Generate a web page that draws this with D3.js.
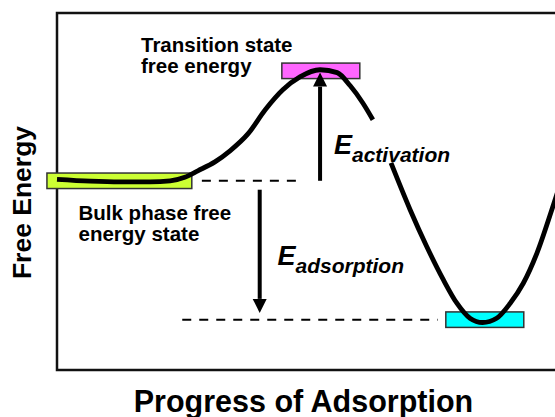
<!DOCTYPE html>
<html>
<head>
<meta charset="utf-8">
<script src="https://cdn.jsdelivr.net/npm/d3@7"></script>
<style>
  html, body { margin: 0; padding: 0; background: #fff; }
  svg { display: block; font-family: "Liberation Sans", Arial, Helvetica, sans-serif; }
</style>
</head>
<body>
<svg id="chart" width="555" height="417"></svg>
<script>
// ---- Data (progress 0..100, free energy relative to bulk state = 0) ----
const curveBeforeProgress = [0, 6.6, 12.5, 18.5, 22.5, 25.4, 28.0, 31.4, 34.4, 38.0, 41.4, 44.9, 48.3, 52.3, 55.7, 58.3, 60.8, 62.8];
const curveBeforeEnergy   = [0.4, -0.1, -0.3, -0.3, 0, 1.0, 2.8, 5.3, 8.4, 13.2, 19.9, 25.5, 29.1, 31.1, 30.3, 26.6, 21.8, 17.1];
const curveAfterProgress  = [66.4, 70.2, 73.5, 76.8, 79.5, 82.1, 84.6, 87.4, 90.1, 92.7, 95.4, 98.7, 100];
const curveAfterEnergy    = [5.0, -8.1, -18.4, -27.7, -34.3, -38.5, -39.7, -38.5, -34.3, -28.7, -20.3, -6.7, -1.1];

const stateNames         = ["bulk", "transition", "adsorbed"];
const stateEnergy        = [0, 30.8, -38.9];
const stateProgressStart = [-2.0, 44.7, 77.3];
const stateProgressEnd   = [26.8, 60.2, 92.8];
const stateColors        = ["#ccff33", "#ff66ff", "#00ffff"];

const dashedLevelEnergy = [0, -38.9];
const dashedFrom        = [28.8, 24.9];
const dashedTo          = [48.9, 75.7];

const arrowProgress = [52.3, 40.3];
const arrowFrom     = [0, -2.5];
const arrowTo       = [30.3, -37.0];

const xAxisTitle = "Progress of Adsorption";
const yAxisTitle = "Free Energy";
const transitionLabel = ["Transition state", "free energy"];
const bulkLabel = ["Bulk phase free", "energy state"];
const activationLabel = ["E", "activation"];
const adsorptionLabel = ["E", "adsorption"];

// ---- Scales ----
const x = d3.scaleLinear().domain([0, 100]).range([57, 560]);
const y = d3.scaleLinear().domain([-53, 47]).range([370, 13]);

const svg = d3.select("#chart");

// Frame
svg.append("rect")
  .attr("x", x(0)).attr("y", y(47))
  .attr("width", x(100) - x(0)).attr("height", y(-53) - y(47))
  .attr("fill", "none").attr("stroke", "#111").attr("stroke-width", 2.5);

// State boxes
const boxH = 15.5;
svg.selectAll("rect.state").data(stateNames).enter().append("rect")
  .attr("class", "state")
  .attr("x", (d, i) => x(stateProgressStart[i]))
  .attr("y", (d, i) => y(stateEnergy[i]) - boxH / 2)
  .attr("width", (d, i) => x(stateProgressEnd[i]) - x(stateProgressStart[i]))
  .attr("height", boxH)
  .attr("fill", (d, i) => stateColors[i])
  .attr("stroke", "#333").attr("stroke-width", 1.5);

// Dashed levels
svg.selectAll("line.level").data(dashedLevelEnergy).enter().append("line")
  .attr("class", "level")
  .attr("x1", (d, i) => x(dashedFrom[i])).attr("x2", (d, i) => x(dashedTo[i]))
  .attr("y1", d => y(d)).attr("y2", d => y(d))
  .attr("stroke", "#000").attr("stroke-width", 2).attr("stroke-dasharray", "9,8");

// Energy curve (two segments)
const line = d3.line().x(d => x(d[0])).y(d => y(d[1])).curve(d3.curveMonotoneX);
const seg1 = curveBeforeProgress.map((p, i) => [p, curveBeforeEnergy[i]]);
const seg2 = curveAfterProgress.map((p, i) => [p, curveAfterEnergy[i]]);
[seg1, seg2].forEach(seg => {
  svg.append("path").attr("d", line(seg))
    .attr("fill", "none").attr("stroke", "#000").attr("stroke-width", 4.8)
    .attr("stroke-linecap", "butt");
});

// Arrows
const headLen = 14, headHalf = 7;
arrowProgress.forEach((p, i) => {
  const ax = x(p), y0 = y(arrowFrom[i]), y1 = y(arrowTo[i]);
  const dir = y1 < y0 ? -1 : 1;
  const base = y1 - dir * headLen;
  svg.append("line").attr("x1", ax).attr("x2", ax).attr("y1", y0).attr("y2", base)
    .attr("stroke", "#000").attr("stroke-width", 4);
  svg.append("path")
    .attr("d", `M${ax - headHalf},${base}L${ax + headHalf},${base}L${ax},${y1}Z`)
    .attr("fill", "#000");
});

// Labels
function twoLine(lines, px, baseline, gap, size) {
  const t = svg.append("text").attr("font-weight", "bold").attr("font-size", size).attr("fill", "#000");
  lines.forEach((s, i) => t.append("tspan").attr("x", px).attr("y", baseline + i * gap).text(s));
}
twoLine(transitionLabel, 141, 51.5, 21.5, 20.5);
twoLine(bulkLabel, 78.5, 219.5, 21.5, 20.5);

function eLabel(parts, px, baseline) {
  const t = svg.append("text").attr("x", px).attr("y", baseline)
    .attr("font-weight", "bold").attr("font-style", "italic").attr("fill", "#000");
  t.append("tspan").attr("font-size", 27).text(parts[0]);
  t.append("tspan").attr("font-size", 21).attr("dy", 8).text(parts[1]);
}
eLabel(activationLabel, 334, 153.5);
eLabel(adsorptionLabel, 277.5, 264.5);

// Axis titles
svg.append("text").attr("x", 303.5).attr("y", 411.5).attr("text-anchor", "middle")
  .attr("font-weight", "bold").attr("font-size", 30.5).text(xAxisTitle);
svg.append("text").attr("transform", "translate(30.5,202.5) rotate(-90)")
  .attr("text-anchor", "middle").attr("font-weight", "bold").attr("font-size", 26.5).text(yAxisTitle);
</script>
</body>
</html>
